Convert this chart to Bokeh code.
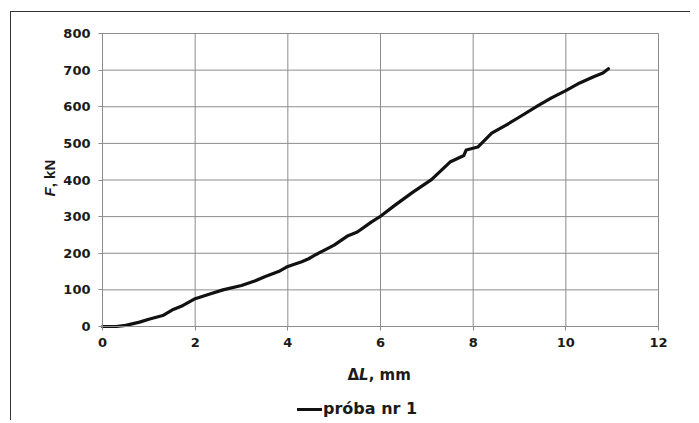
from bokeh.plotting import figure
from bokeh.models import Label, Legend, LegendItem, FixedTicker, Range1d
from bokeh.embed import file_html
from bokeh.resources import INLINE

# data (ΔL in mm, F in kN)
dl = [0.0, 0.3, 0.5, 0.8, 1.0, 1.3, 1.5, 1.7, 2.0, 2.3, 2.6, 3.0, 3.3, 3.5, 3.8,
      4.0, 4.3, 4.45, 4.6, 5.0, 5.3, 5.5, 5.8, 6.0, 6.3, 6.7, 7.1, 7.5, 7.8, 7.85,
      8.1, 8.4, 8.7, 9.0, 9.4, 9.7, 10.0, 10.3, 10.6, 10.8, 10.92]
force = [0, 0, 3, 12, 20, 30, 45, 55, 76, 88, 100, 112, 125, 136, 150,
         164, 177, 185, 196, 222, 248, 258, 285, 301, 330, 367, 401, 449, 467, 482,
         490, 528, 549, 572, 603, 625, 644, 665, 682, 692, 704]
x_ticks = [0, 2, 4, 6, 8, 10, 12]
y_ticks = [0, 100, 200, 300, 400, 500, 600, 700, 800]
series_name = "próba nr 1"

GRID = "#8c8c8c"
TXT = "#1a1a1a"
FONT = "DejaVu Sans"

# layout: canvas placed at page (11, 12); plot area spans page x 102..658, y 33..326
W, H = 680, 409
CX, CY = 11, 12
PX_L, PX_R, PY_T, PY_B = 102, 658, 33, 326
xs = (PX_R - PX_L) / (x_ticks[-1] - x_ticks[0])
ys = (PY_B - PY_T) / (y_ticks[-1] - y_ticks[0])


def dx(px):
    return x_ticks[0] + (px - PX_L) / xs


def dy(py):
    return y_ticks[0] + (PY_B - py) / ys


p = figure(width=W, height=H, output_backend="svg", toolbar_location=None,
           x_range=Range1d(dx(CX), dx(CX + W)), y_range=Range1d(dy(CY + H), dy(CY)),
           min_border=0, min_border_left=0, min_border_right=0,
           min_border_top=0, min_border_bottom=0)
p.styles = {"position": "relative", "left": "10px", "top": "11px",
            "border-left": "1px solid #333333", "border-top": "1px solid #333333"}
p.outline_line_color = None
p.xgrid.visible = False
p.ygrid.visible = False

# grid lines limited to the plot area
n_x, n_y = len(x_ticks), len(y_ticks)
p.segment(x0=x_ticks, y0=[y_ticks[0]] * n_x, x1=x_ticks, y1=[y_ticks[-1]] * n_x,
          line_color=GRID, line_width=1)
p.segment(x0=[x_ticks[0]] * n_y, y0=y_ticks, x1=[x_ticks[-1]] * n_y, y1=y_ticks,
          line_color=GRID, line_width=1)

for ax, ticks in ((p.xaxis, x_ticks), (p.yaxis, y_ticks)):
    ax.ticker = FixedTicker(ticks=ticks)
    ax.fixed_location = 0
    ax.bounds = (ticks[0], ticks[-1])
    ax.axis_line_color = GRID
    ax.major_tick_line_color = GRID
    ax.minor_tick_line_color = None
    ax.major_tick_out = 4
    ax.major_tick_in = 0
    ax.major_label_text_font = FONT
    ax.major_label_text_font_style = "bold"
    ax.major_label_text_font_size = "13px"
    ax.major_label_text_color = TXT
p.xaxis.major_label_standoff = 7
p.yaxis.major_label_standoff = 8

r = p.line(dl, force, line_color="#111111", line_width=3.2, line_join="round", line_cap="round")

# axis titles with italic parts
lab_kw = dict(text_color=TXT, text_font_size="15px", text_font=FONT, text_baseline="alphabetic")
p.add_layout(Label(x=dx(347), y=dy(374), text="Δ", text_font_style="bold", **lab_kw))
p.add_layout(Label(x=dx(358.6), y=dy(374), text="L", text_font_style="bold italic", **lab_kw))
p.add_layout(Label(x=dx(368.2), y=dy(374), text=", mm", text_font_style="bold", **lab_kw))

ylab_kw = dict(text_color=TXT, text_font_size="15px", text_font="Liberation Sans", angle=1.5708,
               text_baseline="middle", text_align="left")
p.add_layout(Label(x=dx(49), y=dy(196), text="F", text_font_style="bold italic", **ylab_kw))
p.add_layout(Label(x=dx(49), y=dy(186.8), text=", kN", text_font_style="bold", **ylab_kw))

legend = Legend(items=[LegendItem(label=series_name, renderers=[r])],
                location=(297 - CX, 3), orientation="horizontal",
                glyph_width=25, glyph_height=14, label_height=14, label_standoff=1,
                padding=0, margin=0, spacing=0, border_line_color=None,
                background_fill_alpha=0, label_text_font=FONT, label_text_font_style="bold",
                label_text_font_size="16px", label_text_color=TXT)
p.add_layout(legend, "center")

open("out.html", "w").write(file_html(p, INLINE))
